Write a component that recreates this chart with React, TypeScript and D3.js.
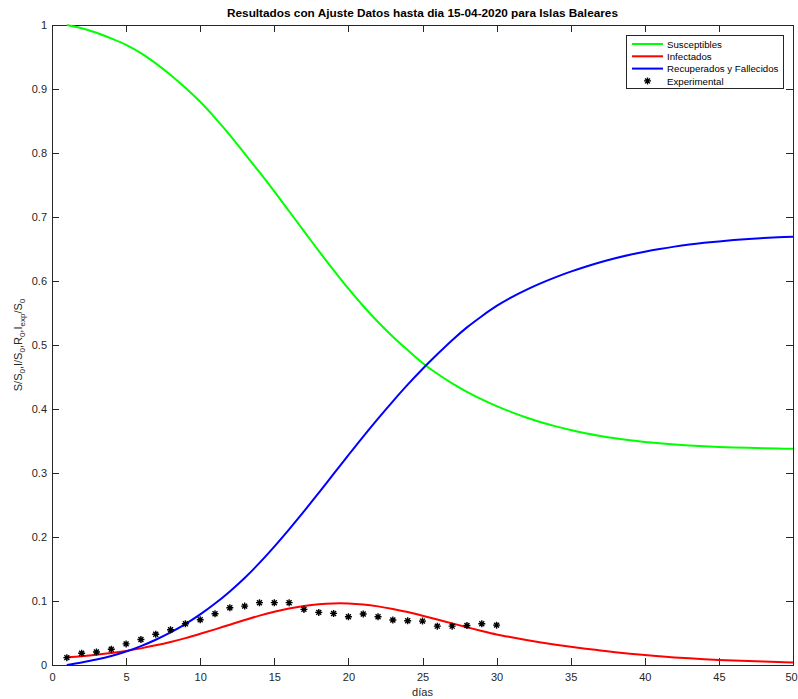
import React, { useEffect, useRef } from 'react';
import * as d3 from 'd3';

// Day index for the model curves
const days = [
  1, 2, 3, 4, 5, 6, 7, 8, 9, 10, 11, 12, 13, 14, 15, 16, 17, 18, 19, 20, 21, 22, 23, 24, 25,
  26, 27, 28, 29, 30, 31, 32, 33, 34, 35, 36, 37, 38, 39, 40, 41, 42, 43, 44, 45, 46, 47, 48, 49, 50,
];

// Susceptibles S/S0
const susceptibles = [
  1.0, 0.995, 0.988, 0.979, 0.969, 0.956, 0.94, 0.922, 0.902, 0.88, 0.855, 0.828, 0.799, 0.77,
  0.74, 0.709, 0.678, 0.647, 0.617, 0.588, 0.561, 0.536, 0.513, 0.492, 0.472, 0.455, 0.44, 0.4267,
  0.4149, 0.4045, 0.3952, 0.3868, 0.3794, 0.3729, 0.3672, 0.3622, 0.3579, 0.3542, 0.3511, 0.3485,
  0.3463, 0.3445, 0.343, 0.3418, 0.3408, 0.34, 0.3393, 0.3387, 0.3382, 0.3378,
];

// Infectados I/S0
const infectados = [
  0.012, 0.0138, 0.016, 0.0187, 0.022, 0.026, 0.0307, 0.036, 0.042, 0.0487, 0.0557, 0.063, 0.0702,
  0.0771, 0.0832, 0.0883, 0.0922, 0.0949, 0.0962, 0.0961, 0.0945, 0.0916, 0.0876, 0.0827, 0.0771,
  0.0711, 0.065, 0.059, 0.0532, 0.0478, 0.0433, 0.0391, 0.0352, 0.0317, 0.0285, 0.0255, 0.0228,
  0.0201, 0.0177, 0.0155, 0.0136, 0.0119, 0.0104, 0.0091, 0.008, 0.007, 0.0061, 0.0053, 0.0046,
  0.004,
];

// Recuperados y Fallecidos R/S0
const recuperados = [
  0.0, 0.004, 0.0085, 0.014, 0.021, 0.0295, 0.0395, 0.051, 0.064, 0.079, 0.096, 0.115, 0.136,
  0.1595, 0.185, 0.212, 0.24, 0.269, 0.2985, 0.328, 0.357, 0.385, 0.412, 0.438, 0.4625, 0.4855,
  0.5075, 0.5275, 0.545, 0.561, 0.5745, 0.5862, 0.5967, 0.6061, 0.6146, 0.6223, 0.6293, 0.6355,
  0.641, 0.6458, 0.65, 0.6537, 0.6569, 0.6596, 0.6619, 0.6639, 0.6656, 0.667, 0.6682, 0.6692,
];

// Experimental data (days 1-30)
const expDays = [
  1, 2, 3, 4, 5, 6, 7, 8, 9, 10, 11, 12, 13, 14, 15, 16, 17, 18, 19, 20, 21, 22, 23, 24, 25, 26, 27,
  28, 29, 30,
];
const experimental = [
  0.0115, 0.0183, 0.0204, 0.0246, 0.033, 0.0398, 0.048, 0.055, 0.0644, 0.0707, 0.08, 0.0895, 0.092,
  0.0974, 0.0974, 0.0974, 0.0869, 0.0822, 0.0806, 0.0754, 0.0796, 0.0754, 0.0702, 0.0691, 0.0686,
  0.0607, 0.0607, 0.0618, 0.0644, 0.0623,
];

const xTicks = [0, 5, 10, 15, 20, 25, 30, 35, 40, 45, 50];
const yTicks = [0, 0.1, 0.2, 0.3, 0.4, 0.5, 0.6, 0.7, 0.8, 0.9, 1];
const yTickLabels = ['0', '0.1', '0.2', '0.3', '0.4', '0.5', '0.6', '0.7', '0.8', '0.9', '1'];

const legendLabels = ['Susceptibles', 'Infectados', 'Recuperados y Fallecidos', 'Experimental'];
const seriesColors = ['#00ff00', '#ff0000', '#0000ff'];

const W = 798;
const H = 699;
const M = { left: 52, top: 25, right: 5, bottom: 34 };
const FONT = '"Liberation Sans", Arial, Helvetica, sans-serif';
const AXIS_COLOR = '#262626';

// MATLAB-style '*' marker: a plus overlaid with a cross
const asteriskSymbol = {
  draw(ctx: any, size: number) {
    const r = Math.sqrt(size) / 2;
    const d = r * Math.SQRT1_2;
    ctx.moveTo(-r, 0);
    ctx.lineTo(r, 0);
    ctx.moveTo(0, -r);
    ctx.lineTo(0, r);
    ctx.moveTo(-d, -d);
    ctx.lineTo(d, d);
    ctx.moveTo(-d, d);
    ctx.lineTo(d, -d);
  },
};

export default function App() {
  const ref = useRef<SVGSVGElement | null>(null);

  useEffect(() => {
    const svg = d3.select(ref.current);
    svg.selectAll('*').remove();

    const x = d3.scaleLinear().domain([0, 50]).range([M.left, W - M.right]);
    const y = d3.scaleLinear().domain([0, 1]).range([H - M.bottom, M.top]);

    const x0 = x.range()[0];
    const x1 = x.range()[1];
    const y0 = y.range()[0];
    const y1 = y.range()[1];

    svg.append('rect').attr('width', W).attr('height', H).attr('fill', '#ffffff');

    // Plot frame
    svg
      .append('rect')
      .attr('x', x0)
      .attr('y', y1)
      .attr('width', x1 - x0)
      .attr('height', y0 - y1)
      .attr('fill', 'none')
      .attr('stroke', AXIS_COLOR)
      .attr('stroke-width', 1)
      .attr('shape-rendering', 'crispEdges');

    const styleAxis = (g: any) => {
      g.select('.domain').remove();
      g.selectAll('line').attr('stroke', AXIS_COLOR).attr('shape-rendering', 'crispEdges');
      g.selectAll('text')
        .attr('fill', AXIS_COLOR)
        .style('font-family', FONT)
        .style('font-size', '11px');
    };

    const bottomAxis = svg
      .append('g')
      .attr('transform', `translate(0,${y0})`)
      .call(d3.axisBottom(x).tickValues(xTicks).tickSize(-7).tickPadding(8).tickFormat(d3.format('d')))
      .call(styleAxis);
    // keep the last label inside the figure
    bottomAxis
      .selectAll('.tick text')
      .filter((d: any) => d === 50)
      .attr('dx', -2);

    svg
      .append('g')
      .attr('transform', `translate(0,${y1})`)
      .call(d3.axisTop(x).tickValues(xTicks).tickSize(-7).tickFormat(() => ''))
      .call(styleAxis);

    svg
      .append('g')
      .attr('transform', `translate(${x0},0)`)
      .call(
        d3
          .axisLeft(y)
          .tickValues(yTicks)
          .tickSize(-7)
          .tickPadding(5)
          .tickFormat((d: any, i: number) => yTickLabels[i])
      )
      .call(styleAxis);

    svg
      .append('g')
      .attr('transform', `translate(${x1},0)`)
      .call(d3.axisRight(y).tickValues(yTicks).tickSize(-7).tickFormat(() => ''))
      .call(styleAxis);

    // Model curves
    const line = d3
      .line<number>()
      .x((_, i) => x(days[i]))
      .y((d) => y(d))
      .curve(d3.curveCatmullRom.alpha(0.5));

    const curves = [susceptibles, infectados, recuperados];
    const plot = svg.append('g');
    curves.forEach((vals, k) => {
      plot
        .append('path')
        .datum(vals)
        .attr('d', line)
        .attr('fill', 'none')
        .attr('stroke', seriesColors[k])
        .attr('stroke-width', 2)
        .attr('stroke-linejoin', 'round');
    });

    // Experimental points
    const marker = d3.symbol().type(asteriskSymbol as any).size(49);
    plot
      .selectAll('path.exp')
      .data(experimental)
      .enter()
      .append('path')
      .attr('class', 'exp')
      .attr('transform', (d, i) => `translate(${x(expDays[i])},${y(d)})`)
      .attr('d', marker)
      .attr('fill', 'none')
      .attr('stroke', '#000000')
      .attr('stroke-width', 1.4);

    // Title
    svg
      .append('text')
      .attr('x', (x0 + x1) / 2)
      .attr('y', 17)
      .attr('text-anchor', 'middle')
      .style('font-family', FONT)
      .style('font-size', '11.8px')
      .style('font-weight', 'bold')
      .attr('fill', '#000000')
      .text('Resultados con Ajuste Datos hasta dia 15-04-2020 para Islas Baleares');

    // X axis label
    svg
      .append('text')
      .attr('x', (x0 + x1) / 2)
      .attr('y', 696)
      .attr('text-anchor', 'middle')
      .style('font-family', FONT)
      .style('font-size', '11px')
      .attr('fill', AXIS_COLOR)
      .text('días');

    // Y axis label with subscripts
    const yl = svg
      .append('text')
      .attr('transform', `translate(22,${(y0 + y1) / 2}) rotate(-90)`)
      .attr('text-anchor', 'middle')
      .style('font-family', FONT)
      .style('font-size', '11px')
      .attr('fill', AXIS_COLOR);
    const parts: [string, boolean][] = [
      ['S/S', false],
      ['0', true],
      [',I/S', false],
      ['0', true],
      [',R', false],
      ['0', true],
      [',I', false],
      ['exp', true],
      ['/S', false],
      ['0', true],
    ];
    let prevSub = false;
    parts.forEach(([t, sub]) => {
      const ts = yl.append('tspan').text(t);
      if (sub) {
        ts.attr('font-size', '8px').attr('dy', prevSub ? 0 : 3);
      } else {
        ts.attr('dy', prevSub ? -3 : 0);
      }
      prevSub = sub;
    });

    // Legend
    const lg = svg.append('g');
    const lx0 = 626.5;
    const ly0 = 35.5;
    lg.append('rect')
      .attr('x', lx0)
      .attr('y', ly0)
      .attr('width', 157)
      .attr('height', 53)
      .attr('fill', '#ffffff')
      .attr('stroke', AXIS_COLOR)
      .attr('stroke-width', 1);
    legendLabels.forEach((lab, i) => {
      const cy = 44 + i * 12.3;
      if (i < 3) {
        lg.append('line')
          .attr('x1', 632)
          .attr('x2', 663)
          .attr('y1', cy)
          .attr('y2', cy)
          .attr('stroke', seriesColors[i])
          .attr('stroke-width', 2);
      } else {
        lg.append('path')
          .attr('transform', `translate(647.5,${cy})`)
          .attr('d', marker)
          .attr('fill', 'none')
          .attr('stroke', '#000000')
          .attr('stroke-width', 1.4);
      }
      lg.append('text')
        .attr('x', 667)
        .attr('y', cy + 3.6)
        .style('font-family', FONT)
        .style('font-size', '9.7px')
        .attr('fill', '#000000')
        .text(lab);
    });
  }, []);

  return (
    <svg
      ref={ref}
      width={W}
      height={H}
      style={{ position: 'absolute', left: 0, top: 0, display: 'block' }}
    />
  );
}
